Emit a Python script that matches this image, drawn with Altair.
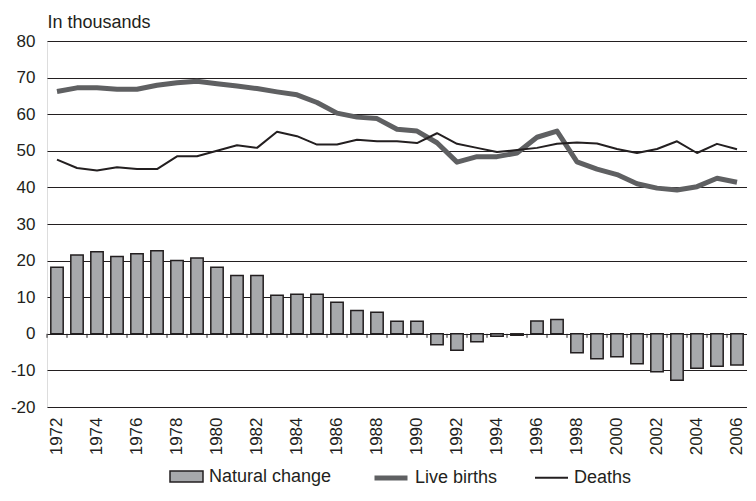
import altair as alt
import pandas as pd

years = list(range(1972, 2007))
natural_change = [18.2, 21.5, 22.4, 21.1, 21.9, 22.7, 20.0, 20.7, 18.2, 15.9,
                  15.9, 10.5, 10.8, 10.8, 8.6, 6.4, 5.9, 3.4, 3.4, -3.0,
                  -4.5, -2.2, -0.7, -0.4, 3.5, 3.9, -5.2, -6.8, -6.3, -8.2,
                  -10.4, -12.7, -9.4, -8.9, -8.5]
live_births = [66.2, 67.2, 67.2, 66.8, 66.8, 67.9, 68.6, 69.0, 68.3, 67.7,
               67.0, 66.1, 65.3, 63.2, 60.3, 59.2, 58.8, 55.9, 55.4, 52.2,
               46.9, 48.4, 48.4, 49.4, 53.7, 55.4, 47.0, 45.0, 43.5, 41.0,
               39.8, 39.3, 40.2, 42.5, 41.4]
deaths = [47.6, 45.3, 44.6, 45.5, 45.0, 45.0, 48.5, 48.5, 50.0, 51.5,
          50.8, 55.2, 54.0, 51.7, 51.7, 53.0, 52.6, 52.6, 52.1, 54.8,
          51.9, 50.8, 49.7, 50.2, 50.8, 51.9, 52.3, 52.0, 50.5, 49.4,
          50.5, 52.6, 49.4, 51.9, 50.4]
label_years = list(range(1972, 2007, 2))
y_ticks = list(range(-20, 81, 10))

FONT = "Liberation Sans"
INK = "#231f20"
W, H = 700, 366
step = W / len(years)

bars_df = pd.DataFrame({"Year": years, "Value": natural_change, "Series": "Natural change"})
lines_df = pd.concat([
    pd.DataFrame({"Year": years, "Value": live_births, "Series": "Live births"}),
    pd.DataFrame({"Year": years, "Value": deaths, "Series": "Deaths"}),
])

x_scale = alt.Scale(paddingInner=0.38, paddingOuter=0.19)
x_axis = alt.Axis(values=label_years, labelAngle=-90, labelAlign="right",
                  labelBaseline="middle", labelPadding=10, labelFont=FONT,
                  labelFontSize=17, labelColor=INK, domain=False, ticks=False,
                  grid=False, labelOverlap=False)
y_scale = alt.Scale(domain=[-20, 80], nice=False, zero=False)
y_axis = alt.Axis(values=y_ticks, tickCount=11, labelFont=FONT, labelFontSize=17,
                  labelColor=INK, labelPadding=12, labelOverlap=False,
                  labelExpr="'' + datum.value",
                  domain=False, ticks=False,
                  grid=True, gridColor=INK, gridWidth=1, gridOpacity=1,
                  titleAngle=0, titleAlign="left", titleBaseline="alphabetic",
                  titleX=0, titleY=-14, titleFont=FONT, titleFontSize=18,
                  titleFontWeight="normal", titleColor=INK)


def xe(**kw):
    return alt.X("Year:O", scale=x_scale, title=None, axis=x_axis, **kw)


def ye(field="Value:Q"):
    return alt.Y(field, scale=y_scale, title="In thousands", axis=y_axis)


bars = alt.Chart(bars_df).mark_bar(stroke=INK, strokeWidth=1.5).encode(
    x=xe(), y=ye(),
    fill=alt.Fill("Series:N", scale=alt.Scale(domain=["Natural change"], range=["#a7a9ac"]),
                  legend=alt.Legend(title=None, orient="none", legendX=122, legendY=418,
                                    symbolType="M-1,-0.34H1V0.34H-1Z", symbolSize=1089,
                                    symbolStrokeColor=INK, symbolStrokeWidth=1.5,
                                    labelFont=FONT, labelFontSize=18, labelColor=INK,
                                    labelOffset=5, padding=0)),
)

zero_ticks = alt.Chart(bars_df).mark_rule(color=INK, strokeWidth=1, xOffset=-step / 2,
                                          x2Offset=-step / 2, y2Offset=4).encode(
    x=xe(), y=alt.datum(0, scale=y_scale, axis=y_axis, title="In thousands"),
    y2=alt.datum(0),
)

line_legend = alt.Legend(title=None, orient="none", legendX=325, legendY=418,
                         direction="horizontal", symbolType="stroke", symbolSize=1089,
                         labelFont=FONT, labelFontSize=18, labelColor=INK,
                         labelOffset=5, columnPadding=33, padding=0)
stroke_scale = alt.Scale(domain=["Live births", "Deaths"], range=["#5f6062", INK])
width_scale = alt.Scale(domain=["Live births", "Deaths"], range=[5, 2])


def line_layer(name):
    return alt.Chart(lines_df).transform_filter(alt.datum.Series == name).mark_line(
        strokeJoin="round").encode(
        x=xe(), y=ye(),
        stroke=alt.Stroke("Series:N", scale=stroke_scale, legend=line_legend),
        strokeWidth=alt.StrokeWidth("Series:N", scale=width_scale, legend=line_legend),
    )


chart = alt.layer(bars, zero_ticks, line_layer("Live births"), line_layer("Deaths")).properties(
    width=W, height=H,
    autosize=alt.AutoSizeParams(type="none"),
    padding={"left": 39, "top": 33, "right": 0, "bottom": 83},
).configure_view(stroke=None).configure(background="white")

chart.save("out.html", embed_options={"renderer": "svg", "actions": False})
